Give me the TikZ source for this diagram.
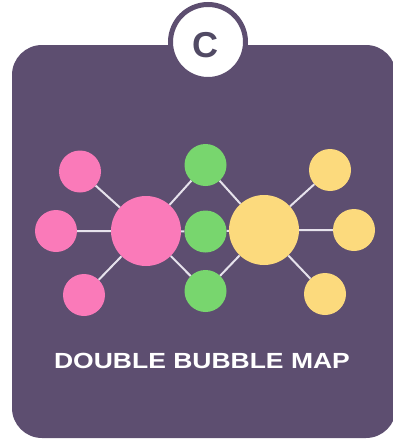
\documentclass[tikz,border=0pt]{standalone}
\usepackage{fontspec}
\setmainfont{Liberation Sans}
\definecolor{boxpurple}{HTML}{5D4E70}
\definecolor{letterc}{HTML}{514A64}
\definecolor{bpink}{HTML}{FA7AB9}
\definecolor{bgreen}{HTML}{78D66E}
\definecolor{byellow}{HTML}{FCDA7D}
\definecolor{linkc}{HTML}{E6E2EC}
\begin{document}
\begin{tikzpicture}[x=1pt,y=-1pt,
  bub/.style={circle, inner sep=0pt, minimum size=42pt, draw=none},
  big/.style={circle, inner sep=0pt, minimum size=70pt, draw=none},
  link/.style={draw=linkc, line width=2pt}]
\useasboundingbox (0,0) rectangle (392,439);
\fill[boxpurple, rounded corners=30pt] (12,45) rectangle (396,438);
\node[circle, inner sep=0pt, minimum size=75pt, fill=white, draw=boxpurple, line width=5pt] (badge) at (208,42) {};
\node[text=letterc, font=\bfseries\fontsize{36}{36}\selectfont] (clabel) at (205.5,45.5) {C};
% bubbles
\node[big, fill=bpink] (pB) at (146,231) {};
\node[big, fill=byellow] (yB) at (264,230) {};
\node[bub, fill=bpink] (p1) at (80,171.5) {};
\node[bub, fill=bpink] (p2) at (56,231) {};
\node[bub, fill=bpink] (p3) at (84,295) {};
\node[bub, fill=bgreen] (g1) at (205.5,165) {};
\node[bub, fill=bgreen] (g2) at (205.5,231.5) {};
\node[bub, fill=bgreen] (g3) at (205.5,291) {};
\node[bub, fill=byellow] (y1) at (330,170) {};
\node[bub, fill=byellow] (y2) at (354,230) {};
\node[bub, fill=byellow] (y3) at (325,294) {};
\path[link] (pB) -- (p1) (pB) -- (p2) (pB) -- (p3)
  (pB) -- (g1) (pB) -- (g2) (pB) -- (g3)
  (yB) -- (g1) (yB) -- (g2) (yB) -- (g3)
  (yB) -- (y1) (yB) -- (y2) (yB) -- (y3);
\node[anchor=center, text=white, inner sep=0pt, font=\bfseries\fontsize{21.9}{22}\selectfont] (title) at (202,360.5) {\scalebox{1.21}[1]{DOUBLE BUBBLE MAP}};
\end{tikzpicture}
\end{document}
